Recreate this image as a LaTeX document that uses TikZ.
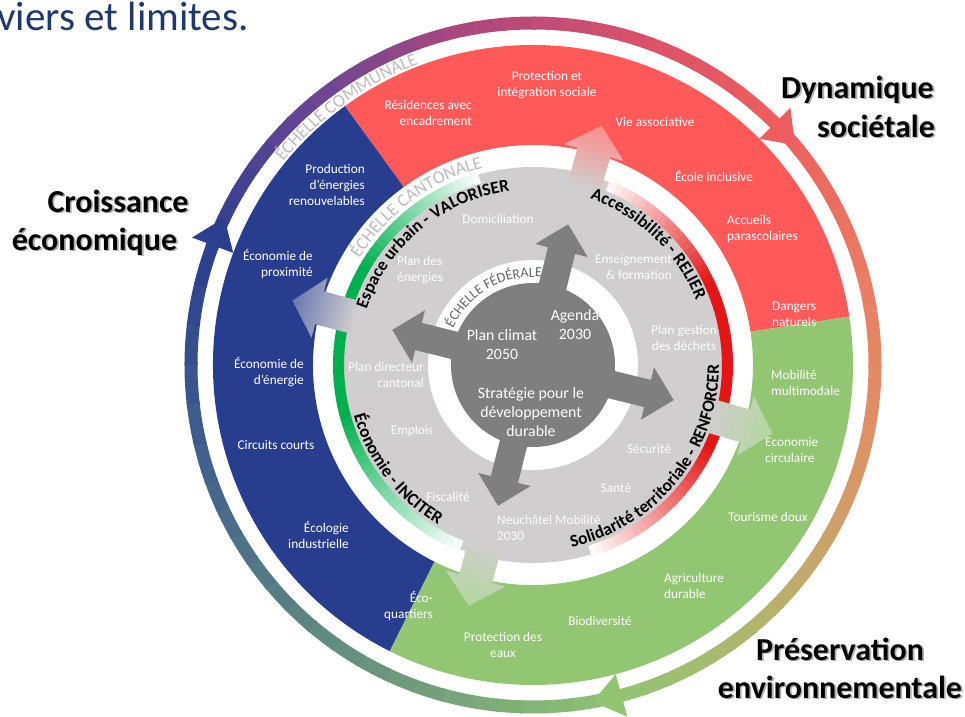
\documentclass[tikz,border=0pt]{standalone}
\usepackage{fontspec}
\setmainfont{Carlito}
\usetikzlibrary{decorations.text}

\definecolor{secRed}{RGB}{255,89,89}
\definecolor{secBlue}{RGB}{41,61,143}
\definecolor{secGreen}{RGB}{146,198,115}
\definecolor{grayD}{RGB}{208,206,206}
\definecolor{darkG}{RGB}{127,127,127}
\definecolor{arcGreen}{RGB}{0,176,80}
\definecolor{arcRed}{RGB}{230,20,20}
\definecolor{titleBlue}{RGB}{31,56,110}
\definecolor{echLight}{RGB}{188,188,188}
\definecolor{echDark}{RGB}{100,100,100}
\definecolor{rA}{RGB}{44,62,142}
\definecolor{rB}{RGB}{105,70,148}
\definecolor{rC}{RGB}{175,72,125}
\definecolor{rD}{RGB}{220,82,105}
\definecolor{rE}{RGB}{238,94,94}
\definecolor{rF}{RGB}{234,128,98}
\definecolor{rG}{RGB}{215,152,102}
\definecolor{rH}{RGB}{178,182,110}
\definecolor{rI}{RGB}{146,196,114}
\definecolor{rJ}{RGB}{122,168,120}
\definecolor{rK}{RGB}{95,135,130}
\definecolor{rL}{RGB}{68,100,140}

\newcommand\lbfont{\fontsize{13.3}{16}\selectfont}
\newcommand\ctrfont{\fontsize{15.8}{19}\selectfont}
\newcommand\bigfont{\fontsize{32}{36}\selectfont\bfseries}
\newcommand\curvefont{\fontsize{17.5}{17.5}\selectfont\bfseries}

\begin{document}
\begin{tikzpicture}[x=1pt,y=1pt,
  lab/.style={text=white, font=\lbfont, inner sep=0pt, align=center},
  labl/.style={lab, align=left},
  labr/.style={lab, align=right},
  ctr/.style={text=white, font=\ctrfont, inner sep=0pt, align=center},
  big/.style={font=\bigfont, inner sep=0pt, text=black},
  bigsh/.style={font=\bigfont, inner sep=0pt, text=black!30},
]
\useasboundingbox (-533,-351) rectangle (432,365);
\fill[white] (-533,-351) rectangle (432,365);

% ---------- outer gradient ring ----------
\foreach \sa/\ea/\ca/\cb in {160/130/rA/rB,130/100/rB/rC,100/70/rC/rD,70/45/rD/rE,45/10/rE/rF,10/-20/rF/rG,-20/-50/rG/rH,-50/-75/rH/rI,-75/-100/rI/rJ,-100/-130/rJ/rK,-130/-160/rK/rL,-160/-200/rL/rA}{
  \foreach \i in {0,...,5}{
    \pgfmathsetmacro\aa{\sa+(\ea-\sa)*\i/6}
    \pgfmathsetmacro\ab{\sa+(\ea-\sa)*(\i+1)/6-0.5}
    \pgfmathtruncatemacro\pp{100-(\i+0.5)*100/6}
    \draw[line width=13pt, \ca!\pp!\cb] (\aa:342pt) arc[start angle=\aa, end angle=\ab, radius=342pt];
  }
}
\fill[rA] (159.5:320pt) -- (159.5:364pt) -- (154.5:342pt) -- cycle;
\fill[rE] (45:320pt) -- (45:364pt) -- (40:342pt) -- cycle;
\fill[rI] (-75:320pt) -- (-75:364pt) -- (-80:342pt) -- cycle;

% ---------- outer sectors ----------
\fill[secRed] (8.7:220pt) arc[start angle=8.7,end angle=126,radius=220pt] -- (126:320pt) arc[start angle=126,end angle=8.7,radius=320pt] -- cycle;
\fill[secBlue] (126:220pt) arc[start angle=126,end angle=243.4,radius=220pt] -- (243.4:320pt) arc[start angle=243.4,end angle=126,radius=320pt] -- cycle;
\fill[secGreen] (243.4:220pt) arc[start angle=243.4,end angle=368.7,radius=220pt] -- (368.7:320pt) arc[start angle=368.7,end angle=243.4,radius=320pt] -- cycle;

% ---------- gray disk and coloured arcs ----------
\fill[grayD] (0,0) circle[radius=198pt];
\foreach \a in {106,108,...,247}{
  \pgfmathtruncatemacro\pp{100*min(1,(\a+1-106)/44,(249-\a-1)/54)}
  \pgfmathsetmacro\b{\a+2.4}
  \draw[line width=11pt, arcGreen!\pp!white] (\a:194.5pt) arc[start angle=\a, end angle=\b, radius=194.5pt];
}
\foreach \a in {-73,-71,...,66}{
  \pgfmathtruncatemacro\pp{100*min(1,(68-\a-1)/43,(\a+1+73)/48)}
  \pgfmathsetmacro\b{\a+2.4}
  \draw[line width=11pt, arcRed!\pp!white] (\a:194.5pt) arc[start angle=\a, end angle=\b, radius=194.5pt];
}

% ---------- fading arrows into the outer sectors ----------
\foreach \a/\c in {74/secRed,165/secBlue,255/secGreen,344/secGreen}{
  \begin{scope}[transform canvas={rotate=\a}]
    \shade[left color=grayD, middle color=grayD!40!white, right color=\c!70!white]
      (184pt,-17pt) -- (221pt,-17pt) -- (221pt,-31pt) -- (249pt,0pt) -- (221pt,31pt) -- (221pt,17pt) -- (184pt,17pt) -- cycle;
  \end{scope}
}

% ---------- inner circle and dark arrows ----------
\fill[white] (0,0) circle[radius=105pt];
\fill[darkG] (0,0) circle[radius=82pt];
\foreach \a in {76,166,256,346}{
  \fill[darkG, rotate=\a] (0pt,-14pt) -- (118pt,-14pt) -- (118pt,-27pt) -- (145pt,0pt) -- (118pt,27pt) -- (118pt,14pt) -- (0pt,14pt) -- cycle;
}

% ---------- curved texts ----------
\path[decorate, decoration={text along path, text align=center, text={|\fontsize{18}{18}\selectfont\color{echLight}|ÉCHELLE COMMUNALE}}]
  (150:322pt) arc[start angle=150, end angle=101.8, radius=322pt];
\path[decorate, decoration={text along path, text align=center, text={|\fontsize{18}{18}\selectfont\color{echLight}|ÉCHELLE CANTONALE}}]
  (160:203.5pt) arc[start angle=160, end angle=92.8, radius=203.5pt];
\path[decorate, decoration={text along path, text align=center, text={|\fontsize{14}{14}\selectfont\color{echDark}|ÉCHELLE FÉDÉRALE}}]
  (165:88pt) arc[start angle=165, end angle=74.6, radius=88pt];
\path[decorate, decoration={text along path, text align=center, text={|\curvefont|Espace urbain - VALORISER}}]
  (172:175.5pt) arc[start angle=172, end angle=87, radius=175.5pt];
\path[decorate, decoration={text along path, text align=center, text={|\curvefont|Accessibilité - RELIER}}]
  (82:175.5pt) arc[start angle=82, end angle=10.6, radius=175.5pt];
\path[decorate, decoration={text along path, text align=center, text={|\curvefont|Solidarité territoriale - RENFORCER}}]
  (-86:186pt) arc[start angle=-86, end angle=8, radius=186pt];
\path[decorate, decoration={text along path, text align=center, text={|\curvefont|Économie - INCITER}}]
  (185:186pt) arc[start angle=185, end angle=250, radius=186pt];

% ---------- red sector labels ----------
\node[labr, anchor=east] (res) at (-61,252) {Résidences avec\\encadrement};
\node[lab] (prot) at (14,280) {Protection et\\intégration sociale};
\node[lab] (vie) at (122,243) {Vie associative};
\node[lab] (ecole) at (181,189) {École inclusive};
\node[labl, anchor=west] (acc) at (194,136) {Accueils\\parascolaires};
\node[labl, anchor=west] (dang) at (239,51) {Dangers\\naturels};
% ---------- green sector labels ----------
\node[labl, anchor=west] (mob) at (238,-18) {Mobilité\\multimodale};
\node[labl, anchor=west] (eco) at (232,-85) {Economie\\circulaire};
\node[lab] (tour) at (235,-152) {Tourisme doux};
\node[labl, anchor=west] (agri) at (131,-221) {Agriculture\\durable};
\node[lab] (bio) at (67,-256) {Biodiversité};
\node[lab] (eaux) at (-30,-280) {Protection des\\eaux};
\node[labr, anchor=east] (ecoq) at (-100,-241) {Éco-\\quartiers};
% ---------- blue sector labels ----------
\node[labr, anchor=east] (prod) at (-168,180) {Production\\d’énergies\\renouvelables};
\node[labr, anchor=east] (prox) at (-220,101) {Économie de\\proximité};
\node[labr, anchor=east] (ener) at (-229,-7) {Économie de\\d’énergie};
\node[lab] (circ) at (-257,-80) {Circuits courts};
\node[labr, anchor=east] (indu) at (-184,-170) {Écologie\\industrielle};
% ---------- gray disk labels ----------
\node[lab] (domi) at (-35,146) {Domiciliation};
\node[labl, anchor=west] (pde) at (-136,95) {Plan des\\énergies};
\node[labr, anchor=east] (pdc) at (-109,-10) {Plan directeur\\cantonal};
\node[lab] (empl) at (-121,-66) {Emplois};
\node[lab] (fisc) at (-85,-132) {Fiscalité};
\node[labl, anchor=west] (neu) at (-36,-163) {Neuchâtel Mobilité\\2030};
\node[lab] (sante) at (83,-123) {Santé};
\node[lab] (secu) at (116,-84) {Sécurité};
\node[lab] (pgd) at (151,27) {Plan gestion\\des déchets};
\node[labr, anchor=east] (ens) at (139,98) {Enseignement\\\& formation};
% ---------- centre labels ----------
\node[ctr] (agenda) at (42,40.5) {Agenda\\2030};
\node[ctr] (climat) at (-31,20.5) {Plan climat\\2050};
\node[ctr] (strat) at (-2,-47) {Stratégie pour le\\développement\\durable};

% ---------- big labels ----------
\node[bigsh, anchor=base] (cro-s) at (-413.2,151.2) {Croissance};
\node[big, anchor=base] (cro) at (-415,153) {Croissance};
\node[bigsh, anchor=base] (eco-s) at (-436.7,113.2) {économique};
\node[big, anchor=base] (ecom) at (-438.5,115) {économique};
\node[bigsh, anchor=base east] (dyn-s) at (402.8,265.2) {Dynamique};
\node[big, anchor=base east] (dyn) at (401,267) {Dynamique};
\node[bigsh, anchor=base east] (soc-s) at (403.8,226.2) {sociétale};
\node[big, anchor=base east] (soc) at (402,228) {sociétale};
\node[bigsh, anchor=base] (pres-s) at (308.8,-296.8) {Préservation};
\node[big, anchor=base] (pres) at (307,-295) {Préservation};
\node[bigsh, anchor=base] (env-s) at (308.8,-334.8) {environnementale};
\node[big, anchor=base] (env) at (307,-333) {environnementale};

% ---------- title ----------
\node[anchor=base west, font=\fontsize{41}{45}\selectfont, text=titleBlue, inner sep=0pt] (title) at (-536,335) {viers et limites.};
\end{tikzpicture}
\end{document}
